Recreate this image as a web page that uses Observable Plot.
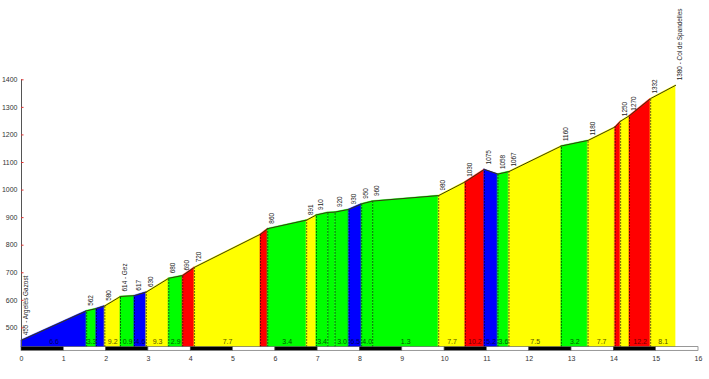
<!DOCTYPE html>
<html><head><meta charset="utf-8">
<script src="https://cdn.jsdelivr.net/npm/d3@7"></script>
<script src="https://cdn.jsdelivr.net/npm/@observablehq/plot@0.6"></script>
<style>body{margin:0;background:#fff}</style>
</head><body><div id="chart"></div>
<script>
// Profile points (km, m)
const distKm = [0, 1.54, 1.77, 1.97, 2.34, 2.67, 2.95, 3.48, 3.81, 4.09, 5.65, 5.82, 6.74, 6.97, 7.24, 7.41, 7.74, 8.04, 8.30, 9.86, 10.49, 10.94, 11.26, 11.52, 12.76, 13.39, 14.03, 14.16, 14.37, 14.87, 15.46];
const elevation = [455, 562, 570, 580, 614, 617, 630, 680, 690, 720, 840, 860, 891, 910, 919, 920, 930, 950, 960, 980, 1030, 1075, 1058, 1067, 1160, 1180, 1229, 1250, 1270, 1332, 1380];
const pointLabels = ["455 - Argelès Gazost", "562", "", "580", "614 - Gez", "617", "630", "680", "690", "720", "", "860", "891", "910", "", "920", "930", "950", "960", "980", "1030", "1075", "1058", "1067", "1160", "1180", "", "1250", "1270", "1332", "1380 - Col de Spandelles"];
// Segments (between consecutive points)
const segmentGradients = ["6.6", "3.3", "", "9.2", "0.9", "4.6", "9.3", "2.9", "", "7.7", "", "3.4", "", "3.4", "", "3.0", "6.5", "4.0", "1.3", "7.7", "10.2", "5.2", "3.6", "7.5", "3.2", "7.7", "", "", "12.2", "8.1"];
const segmentClasses = ["blue", "green", "blue", "yellow", "green", "blue", "yellow", "green", "red", "yellow", "red", "green", "yellow", "green", "green", "green", "blue", "green", "green", "yellow", "red", "blue", "green", "yellow", "green", "yellow", "red", "yellow", "red", "yellow"];
const xTicks = [0, 1, 2, 3, 4, 5, 6, 7, 8, 9, 10, 11, 12, 13, 14, 15, 16];
const yTicks = [500, 600, 700, 800, 900, 1000, 1100, 1200, 1300, 1400];
const kmBands = [0, 1, 2, 3, 4, 5, 6, 7, 8, 9, 10, 11, 12, 13, 14, 15];

const baseElev = 430;
const barElev = 417;
const fillOf = {blue: "#0000ff", green: "#00ff00", yellow: "#ffff00", red: "#ff0000"};
const textOf = {blue: "#000060", green: "#005a00", yellow: "#505000", red: "#700000"};

const areaRows = segmentClasses.flatMap((c, i) => [
  {x: distKm[i], y: elevation[i], seg: i, c},
  {x: distKm[i + 1], y: elevation[i + 1], seg: i, c}
]);
const segRows = segmentClasses.map((c, i) => ({
  mid: (distKm[i] + distKm[i + 1]) / 2, label: segmentGradients[i], c
}));
const pts = distKm.map((x, i) => ({x, y: elevation[i], label: pointLabels[i]}));
const inner = pts.slice(1, -1);

const chart = Plot.plot({
  width: 709, height: 379,
  marginLeft: 21, marginRight: 11, marginTop: 79.3, marginBottom: 32.3,
  x: {domain: [0, 16], axis: null},
  y: {domain: [baseElev, 1400], axis: null},
  color: {type: "identity"},
  style: {fontFamily: "'Liberation Sans', Arial, sans-serif", background: "#fff", overflow: "visible"},
  marks: [
    Plot.areaY(areaRows, {x: "x", y1: baseElev, y2: "y", z: "seg", fill: d => fillOf[d.c], stroke: d => fillOf[d.c], strokeWidth: 0.4}),
    Plot.ruleX(inner, {x: "x", y1: baseElev, y2: "y", stroke: "#000", strokeOpacity: 0.75, strokeWidth: 1, strokeDasharray: "1.5,1.5"}),
    Plot.line(pts, {x: "x", y: "y", stroke: "#3a3a10", strokeWidth: 1}),
    Plot.rect(kmBands, {x1: d => d, x2: d => d + 1, y1: barElev, y2: baseElev, fill: d => (d % 2 === 0 ? "#000" : "#fff"), stroke: "#555", strokeWidth: 0.6}),
    Plot.ruleX([0], {y1: baseElev, y2: 1400, stroke: "#555", strokeWidth: 1}),
    Plot.ruleY(yTicks, {y: d => d, x1: 0, x2: 0.06, stroke: "#d33", strokeWidth: 1}),
    Plot.text(yTicks, {x: 0, y: d => d, text: d => String(d), textAnchor: "end", dx: -4, fontSize: 7, fill: "#333"}),
    Plot.text(xTicks, {x: d => d, y: baseElev, text: d => String(d), dy: 12, fontSize: 7, fill: "#333"}),
    Plot.text(segRows.filter(d => d.label), {x: "mid", y: baseElev, text: "label", dy: -5, fontSize: 7, fill: d => textOf[d.c]}),
    Plot.text(pts.filter(d => d.label), {x: "x", y: "y", text: "label", rotate: -90, textAnchor: "start", dx: 4.5, dy: -5, fontSize: 6.4, fill: "#222"})
  ]
});
document.getElementById("chart").appendChild(chart);
</script>
</body></html>
